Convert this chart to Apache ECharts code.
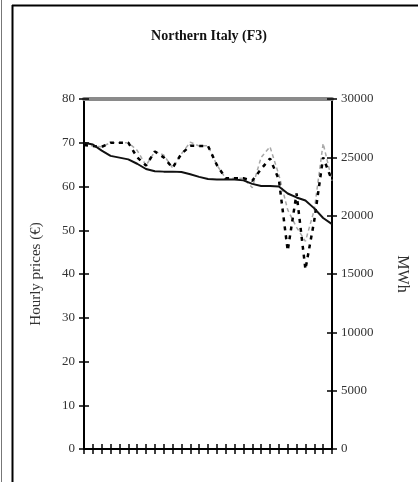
<!DOCTYPE html>
<html>
<head>
<meta charset="utf-8">
<script src="https://cdn.jsdelivr.net/npm/echarts@6/dist/echarts.min.js"></script>
<style>
html, body { margin: 0; padding: 0; background: #fff; }
#chart { width: 418px; height: 482px; }
</style>
</head>
<body>
<div id="chart"></div>
<script>
// hours ranked by price (29 points)
const hours = ['1','2','3','4','5','6','7','8','9','10','11','12','13','14','15','16','17','18','19','20','21','22','23','24','25','26','27','28','29']
const leftTicks = [0, 80, 10]
const rightTicks = [0, 30000, 5000]
// hourly price, left axis
const price = [70, 69.6, 68.2, 67, 66.6, 66.2, 65.2, 64, 63.5, 63.4, 63.4, 63.3, 62.8, 62.2, 61.7,
	61.6, 61.6, 61.6, 61.4, 60.6, 60.1, 60.1, 60, 58.4, 57.5, 56.8, 55, 52.8, 51.4]
// volumes, right axis (MWh)
const volDark = [26060, 25970, 25900, 26260, 26260, 26260, 25000, 24300, 25500, 25000, 24100, 25300, 26000, 25970, 25970,
	24340, 23200, 23200, 23200, 23000, 24000, 24900, 23100, 17000, 21900, 15400, 19600, 25000, 23000]
const volGrey = [26060, 25970, 25900, 26260, 26260, 26260, 25600, 24300, 25500, 25200, 24100, 25300, 26300, 25970, 26000,
	24340, 23200, 23200, 23200, 22400, 25000, 25900, 23500, 20500, 19000, 17800, 20500, 26200, 23000]

const chart = echarts.init(document.getElementById('chart'))
const lab = { color: '#333', fontFamily: 'Liberation Serif', fontSize: 13 }
const grid = { left: 84, right: 83, top: 99, bottom: 33 }

const options = {
	animation: false,
	title: {
		text: 'Northern Italy (F3)',
		left: 'center',
		top: 24,
		textStyle: { fontFamily: 'Liberation Serif', fontWeight: 'bold', fontSize: 14, color: '#111' },
	},
	grid: grid,
	graphic: [
		{ type: 'line', shape: { x1: 1.5, y1: 0, x2: 1.5, y2: 482 }, style: { stroke: '#777', lineWidth: 1 } },
		{ type: 'line', shape: { x1: 12.5, y1: 5, x2: 12.5, y2: 482 }, style: { stroke: '#000', lineWidth: 2 } },
		{ type: 'line', shape: { x1: 12, y1: 5.5, x2: 418, y2: 5.5 }, style: { stroke: '#000', lineWidth: 2 } },
	],
	xAxis: [
		{
			type: 'category', data: hours, boundaryGap: false, position: 'bottom',
			axisLine: { lineStyle: { color: '#000', width: 2 } },
			axisTick: { show: true, length: 5, inside: false, interval: 0, lineStyle: { color: '#000', width: 1.5 } },
			axisLabel: { show: false },
			splitLine: { show: false },
		},
		{
			type: 'category', data: hours, boundaryGap: false, position: 'bottom',
			axisLine: { show: false },
			axisTick: { show: true, length: 5, inside: true, interval: 0, lineStyle: { color: '#000', width: 1.5 } },
			axisLabel: { show: false },
		},
		{
			type: 'category', data: hours, boundaryGap: false, position: 'top',
			axisLine: { show: true, onZero: false, lineStyle: { color: '#8a8a8a', width: 4 } },
			axisTick: { show: false },
			axisLabel: { show: false },
		},
	],
	yAxis: [
		{
			type: 'value', position: 'left', min: leftTicks[0], max: leftTicks[1], interval: leftTicks[2],
			name: 'Hourly prices (€)', nameLocation: 'middle', nameGap: 40, nameRotate: 90,
			nameTextStyle: { ...lab, fontSize: 15 },
			axisLine: { show: true, lineStyle: { color: '#000', width: 2 } },
			axisTick: { show: true, length: 5, lineStyle: { color: '#000', width: 1.5 } },
			axisLabel: { ...lab, margin: 9 },
			splitLine: { show: false },
		},
		{
			type: 'value', position: 'right', min: rightTicks[0], max: rightTicks[1], interval: rightTicks[2],
			name: 'MWh', nameLocation: 'middle', nameGap: 62, nameRotate: -90,
			nameTextStyle: { ...lab, fontSize: 16 },
			axisLine: { show: true, lineStyle: { color: '#000', width: 2 } },
			axisTick: { show: true, length: 5, lineStyle: { color: '#000', width: 1.5 } },
			axisLabel: { ...lab, margin: 9, formatter: (v) => String(v) },
			splitLine: { show: false },
		},
		{
			type: 'value', position: 'left', min: leftTicks[0], max: leftTicks[1], interval: leftTicks[2],
			axisLine: { show: false },
			axisTick: { show: true, inside: true, length: 5, lineStyle: { color: '#000', width: 1.5 } },
			axisLabel: { show: false },
			splitLine: { show: false },
		},
		{
			type: 'value', position: 'right', min: rightTicks[0], max: rightTicks[1], interval: rightTicks[2],
			axisLine: { show: false },
			axisTick: { show: true, inside: true, length: 5, lineStyle: { color: '#000', width: 1.5 } },
			axisLabel: { show: false },
			splitLine: { show: false },
		},
	],
	series: [
		{
			name: 'volume (grey)', type: 'line', yAxisIndex: 1, data: volGrey, symbol: 'none',
			lineStyle: { color: '#a8a8a8', width: 1.5, type: [4, 3] },
		},
		{
			name: 'volume', type: 'line', yAxisIndex: 1, data: volDark, symbol: 'none',
			lineStyle: { color: '#000', width: 2.5, type: [4, 5], cap: 'butt' },
		},
		{
			name: 'price', type: 'line', yAxisIndex: 0, data: price, symbol: 'none', z: 5,
			lineStyle: { color: '#111', width: 2 },
		},
	],
}
chart.setOption(options)
</script>
</body>
</html>
